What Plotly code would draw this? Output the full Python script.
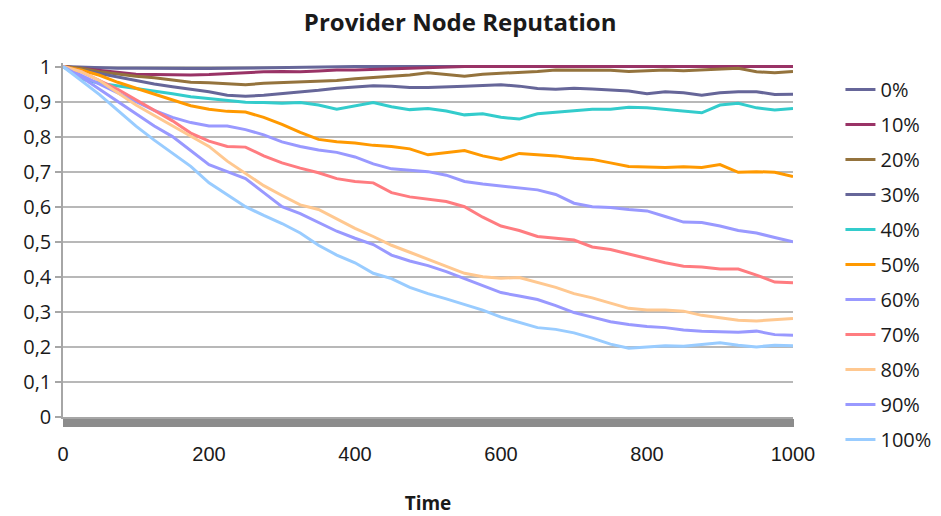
import plotly.graph_objects as go

time = list(range(0, 1001, 25))

labels = ["0%", "10%", "20%", "30%", "40%", "50%", "60%", "70%", "80%", "90%", "100%"]

s0 = [1.0, 0.998, 0.996, 0.995, 0.995, 0.994, 0.994, 0.994, 0.994, 0.995, 0.995, 0.996, 0.997, 0.998, 0.999, 1.0] + [1.0] * 25
s10 = [1.0, 0.995, 0.99, 0.984, 0.978, 0.977, 0.976, 0.976, 0.977, 0.98, 0.983, 0.985, 0.986, 0.985, 0.987, 0.99, 0.99, 0.992, 0.993, 0.995, 0.997, 0.999] + [1.0] * 19
s20 = [1.0, 0.995, 0.985, 0.978, 0.972, 0.968, 0.962, 0.955, 0.954, 0.95, 0.948, 0.952, 0.954, 0.955, 0.957, 0.96, 0.965, 0.968, 0.972, 0.976, 0.982, 0.978, 0.972, 0.978, 0.98, 0.982, 0.986, 0.99, 0.99, 0.988, 0.989, 0.986, 0.988, 0.99, 0.988, 0.99, 0.992, 0.995, 0.985, 0.982, 0.986]
s30 = [1.0, 0.99, 0.98, 0.97, 0.958, 0.95, 0.942, 0.935, 0.928, 0.918, 0.915, 0.918, 0.922, 0.926, 0.932, 0.938, 0.942, 0.945, 0.944, 0.94, 0.94, 0.941, 0.944, 0.946, 0.948, 0.944, 0.937, 0.935, 0.938, 0.936, 0.932, 0.93, 0.922, 0.928, 0.925, 0.918, 0.925, 0.928, 0.928, 0.92, 0.921]
s40 = [1.0, 0.965, 0.952, 0.945, 0.938, 0.93, 0.922, 0.914, 0.908, 0.903, 0.898, 0.897, 0.895, 0.897, 0.89, 0.878, 0.888, 0.897, 0.885, 0.877, 0.88, 0.873, 0.862, 0.865, 0.855, 0.85, 0.865, 0.87, 0.875, 0.878, 0.878, 0.884, 0.882, 0.878, 0.874, 0.868, 0.89, 0.895, 0.882, 0.876, 0.88]
s50 = [1.0, 0.99, 0.975, 0.955, 0.938, 0.922, 0.905, 0.888, 0.878, 0.872, 0.87, 0.855, 0.835, 0.812, 0.792, 0.785, 0.782, 0.775, 0.772, 0.765, 0.748, 0.755, 0.76, 0.745, 0.735, 0.752, 0.748, 0.745, 0.738, 0.735, 0.725, 0.715, 0.713, 0.712, 0.714, 0.712, 0.72, 0.698, 0.7, 0.698, 0.686]
s60 = [1.0, 0.975, 0.95, 0.925, 0.9, 0.875, 0.855, 0.84, 0.83, 0.83, 0.82, 0.805, 0.785, 0.772, 0.762, 0.755, 0.742, 0.722, 0.708, 0.703, 0.7, 0.69, 0.672, 0.665, 0.66, 0.655, 0.648, 0.635, 0.61, 0.6, 0.598, 0.592, 0.588, 0.572, 0.556, 0.555, 0.545, 0.532, 0.525, 0.512, 0.5]
s70 = [1.0, 0.985, 0.96, 0.935, 0.905, 0.875, 0.845, 0.81, 0.787, 0.772, 0.77, 0.745, 0.725, 0.71, 0.697, 0.68, 0.672, 0.668, 0.64, 0.628, 0.622, 0.615, 0.6, 0.57, 0.545, 0.532, 0.515, 0.51, 0.505, 0.485, 0.478, 0.465, 0.452, 0.44, 0.43, 0.428, 0.422, 0.422, 0.405, 0.385, 0.383]
s80 = [1.0, 0.985, 0.96, 0.925, 0.89, 0.86, 0.83, 0.8, 0.772, 0.73, 0.695, 0.66, 0.632, 0.605, 0.592, 0.565, 0.538, 0.515, 0.49, 0.47, 0.45, 0.432, 0.41, 0.4, 0.396, 0.398, 0.385, 0.37, 0.352, 0.34, 0.325, 0.31, 0.305, 0.305, 0.302, 0.29, 0.283, 0.276, 0.274, 0.278, 0.281]
s90 = [1.0, 0.97, 0.935, 0.9, 0.865, 0.83, 0.8, 0.76, 0.72, 0.7, 0.68, 0.64, 0.6, 0.58, 0.555, 0.53, 0.51, 0.492, 0.462, 0.445, 0.432, 0.415, 0.395, 0.375, 0.355, 0.345, 0.335, 0.318, 0.298, 0.285, 0.272, 0.264, 0.258, 0.255, 0.248, 0.245, 0.243, 0.242, 0.245, 0.235, 0.233]
s100 = [1.0, 0.96, 0.92, 0.875, 0.83, 0.79, 0.752, 0.715, 0.668, 0.635, 0.6, 0.575, 0.552, 0.525, 0.49, 0.462, 0.44, 0.41, 0.395, 0.37, 0.352, 0.337, 0.322, 0.305, 0.285, 0.27, 0.255, 0.25, 0.24, 0.225, 0.208, 0.196, 0.2, 0.203, 0.202, 0.208, 0.212, 0.205, 0.2, 0.205, 0.203]

series = [s0, s10, s20, s30, s40, s50, s60, s70, s80, s90, s100]
colors = ["#666699", "#993366", "#94733D", "#666699", "#33CCCC", "#FF9900",
          "#9999FF", "#FF7C80", "#FFC890", "#9999FF", "#99CCFF"]

fig = go.Figure()
for name, ys, c in zip(labels, series, colors):
    fig.add_trace(go.Scatter(x=time, y=ys, mode="lines", name=name,
                             legendgroup=name,
                             line=dict(color=c, width=3)))

axis_gray = "#a6a6a6"
fig.update_layout(
    width=941, height=516,
    margin=dict(l=63, r=148, t=63, b=99, autoexpand=False),
    separators=",.",
    paper_bgcolor="white", plot_bgcolor="white",
    font=dict(family="Open Sans", color="#1a1a1a"),
    title=dict(text="<b>Provider Node Reputation</b>", x=0.489, xanchor="center",
               y=0.957, yanchor="middle", font=dict(size=24, family="Open Sans", color="#1a1a1a")),
    legend=dict(x=1.065, y=0.98, xanchor="left", yanchor="top",
                font=dict(size=20, family="Open Sans", color="#1a1a1a"),
                tracegroupgap=6, bgcolor="rgba(0,0,0,0)", maxheight=480),
    showlegend=True,
)
fig.update_xaxes(
    range=[0, 1000], tickmode="linear", tick0=0, dtick=200,
    ticks="outside", ticklen=8, tickcolor="#8c8c8c", tickwidth=1,
    ticklabelstandoff=10,
    tickfont=dict(size=20, family="Liberation Sans Narrow, Liberation Sans", color="#1a1a1a"),
    minor=dict(ticks="outside", ticklen=8, tickcolor="#8c8c8c", tickwidth=1,
               dtick=1, tick0=0, showgrid=False),
    showgrid=False, zeroline=False,
    showline=True, linecolor=axis_gray, linewidth=1.5,
    title=dict(text="<b>Time</b>", font=dict(size=19, family="Open Sans", color="#1a1a1a"),
               standoff=34),
)
fig.update_yaxes(
    range=[0, 1.01], tickmode="linear", tick0=0, dtick=0.1,
    ticks="outside", ticklen=6, tickcolor=axis_gray, tickwidth=1.5,
    tickfont=dict(size=20, family="Open Sans", color="#1a1a1a"),
    showgrid=True, gridcolor="#b8b8b8", gridwidth=1.5,
    zeroline=False, showline=True, linecolor=axis_gray, linewidth=1.5,
)

fig.write_html("out.html")
